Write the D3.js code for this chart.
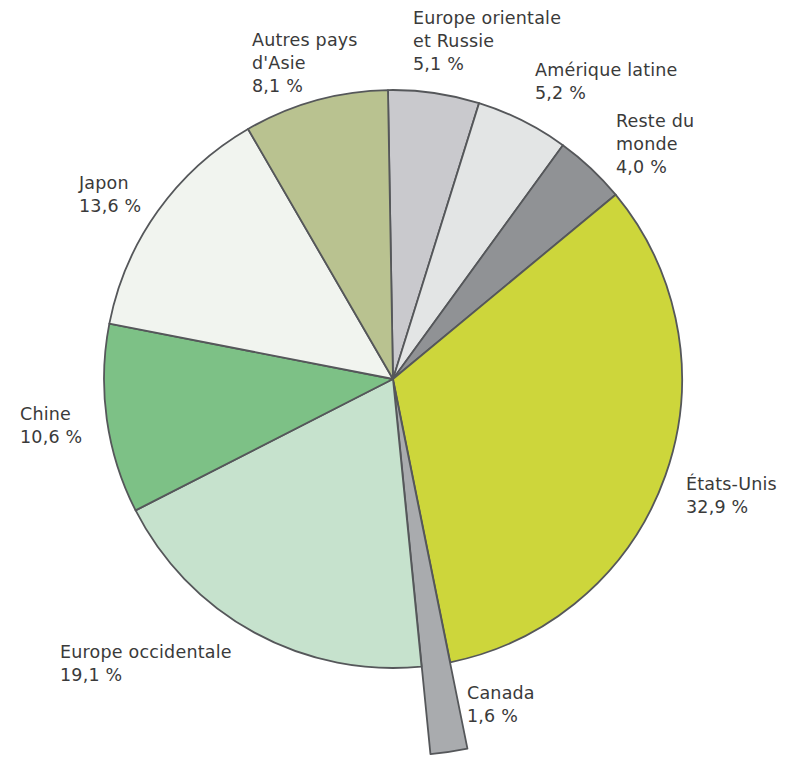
<!DOCTYPE html>
<html>
<head>
<meta charset="utf-8">
<script src="https://cdn.jsdelivr.net/npm/d3@7"></script>
<style>
  html, body { margin: 0; padding: 0; background: #fff; }
  svg { display: block; }
  text { font-family: "DejaVu Sans", "Liberation Sans", sans-serif; fill: #3a3a3a; }
</style>
</head>
<body>
<svg id="chart" width="785" height="757"></svg>
<script>
// ---- data ----
const categories = ["Europe orientale et Russie", "Amérique latine", "Reste du monde", "États-Unis",
                    "Canada", "Europe occidentale", "Chine", "Japon", "Autres pays d'Asie"];
const values = [5.1, 5.2, 4.0, 32.9, 1.6, 19.1, 10.6, 13.6, 8.1];
const labelLines = [
  ["Europe orientale", "et Russie"],
  ["Amérique latine"],
  ["Reste du", "monde"],
  ["États-Unis"],
  ["Canada"],
  ["Europe occidentale"],
  ["Chine"],
  ["Japon"],
  ["Autres pays", "d'Asie"]
];
const colors = ["#c9c9cd", "#e3e5e5", "#909295", "#cdd63b", "#a9abae", "#c6e2cd", "#7dc186", "#f1f4ef", "#b9c290"];

// ---- layout ----
const cx = 393, cy = 379, R = 289;
const startAngle = -1 * Math.PI / 180;
const explodedIdx = 4, explodeR = 373, explodeOffset = 4;
const labelAnchor = [
  [413, 24], [535, 76], [616, 127], [686, 490], [467, 699],
  [60, 658], [20, 420], [79, 189], [252, 46]
];
const lineH = 23;
const fmt = v => d3.format(".1f")(v).replace(".", ",") + " %";

const svg = d3.select("#chart");
const g = svg.append("g").attr("transform", `translate(${cx},${cy})`);

const pie = d3.pie().value(d => d).sort(null)
  .startAngle(startAngle).endAngle(startAngle + 2 * Math.PI);
const arcs = pie(values);
const arc = d3.arc().innerRadius(0).outerRadius(R);
const arcBig = d3.arc().innerRadius(0).outerRadius(explodeR);

g.selectAll("path.slice")
  .data(arcs)
  .join("path")
  .attr("class", "slice")
  .attr("d", (d, i) => i === explodedIdx ? arcBig(d) : arc(d))
  .attr("transform", (d, i) => {
    if (i !== explodedIdx) return null;
    const a = (d.startAngle + d.endAngle) / 2;
    return `translate(${Math.sin(a) * explodeOffset},${-Math.cos(a) * explodeOffset})`;
  })
  .attr("fill", (d, i) => colors[i])
  .attr("stroke", "#55575a")
  .attr("stroke-width", 1.8)
  .attr("stroke-linejoin", "round");

const labels = svg.selectAll("text.lbl")
  .data(arcs)
  .join("text")
  .attr("class", "lbl")
  .attr("font-size", 17.5)
  .attr("letter-spacing", 0.2)
  .attr("x", (d, i) => labelAnchor[i][0])
  .attr("y", (d, i) => labelAnchor[i][1]);

labels.each(function(d, i) {
  const t = d3.select(this);
  const lines = labelLines[i].concat([fmt(values[i])]);
  lines.forEach((l, k) => {
    t.append("tspan").attr("x", labelAnchor[i][0]).attr("dy", k === 0 ? 0 : lineH).text(l);
  });
});
</script>
</body>
</html>
